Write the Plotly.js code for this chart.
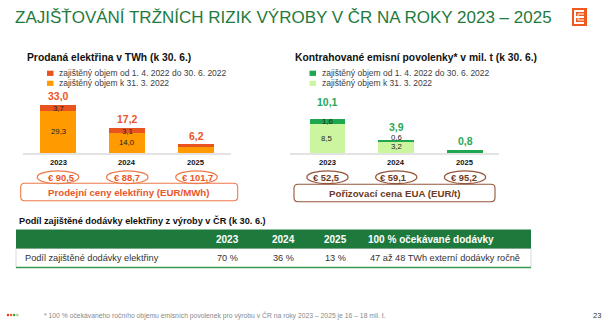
<!DOCTYPE html>
<html>
<head>
<meta charset="utf-8">
<script src="https://cdn.plot.ly/plotly-3.0.1.min.js"></script>
<style>
  html, body { margin: 0; padding: 0; background: #ffffff; }
  #chart { width: 605px; height: 325px; }
</style>
</head>
<body>
<div id="chart"></div>
<script>
// ---------------- DATA ----------------
const years = ['2023', '2024', '2025'];

// Prodaná elektřina v TWh
const elecBase = [29.3, 14.0, 3.9];     // zajištěný objem k 31. 3. 2022
const elecAdded = [3.7, 3.1, 2.3];      // zajištěný objem od 1. 4. 2022 do 30. 6. 2022
const elecTotal = [33.0, 17.2, 6.2];
const elecPrices = ['€ 90,5', '€ 88,7', '€ 101,7'];

// Kontrahované emisní povolenky v mil. t
const euaBase = [8.5, 3.2, 0.0];
const euaAdded = [1.6, 0.6, 0.8];
const euaTotal = [10.1, 3.9, 0.8];
const euaPrices = ['€ 52,5', '€ 59,1', '€ 95,2'];

const segmentLabelYears = ['2023', '2024'];

const legendLabels = ['zajištěný objem od 1. 4. 2022 do 30. 6. 2022', 'zajištěný objem k 31. 3. 2022'];

const tableHeader = ['', '2023', '2024', '2025', '100 % očekávané dodávky'];
const tableRow = ['Podíl zajištěné dodávky elektřiny', '70 %', '36 %', '13 %', '47 až 48 TWh externí dodávky ročně'];

const texts = {
  title: 'ZAJIŠŤOVÁNÍ TRŽNÍCH RIZIK VÝROBY V ČR NA ROKY 2023 – 2025',
  leftTitle: 'Prodaná elektřina v TWh (k 30. 6.)',
  rightTitle: 'Kontrahované emisní povolenky* v mil. t (k 30. 6.)',
  leftBox: 'Prodejní ceny elektřiny (EUR/MWh)',
  rightBox: 'Pořizovací cena EUA (EUR/t)',
  tableTitle: 'Podíl zajištěné dodávky elektřiny z výroby v ČR (k 30. 6.)',
  footnote: '* 100 % očekávaného ročního objemu emisních povolenek pro výrobu v ČR na roky 2023 – 2025 je 16 – 18 mil. t.',
  page: '23'
};

// ---------------- STYLE ----------------
const W = 605, H = 325;
const FONT = 'Liberation Sans, Arial, Helvetica, sans-serif';
const C = {
  green: '#1f7a3d',
  orangeLight: '#ff9a00',
  orangeDark: '#e9531d',
  orangeText: '#e9562a',
  orangeLine: '#ee7a48',
  greenLight: '#ccf5a0',
  greenDark: '#1fa64f',
  greenText: '#2aa85a',
  brownLine: '#94553a',
  brownText: '#6e3a22',
  tableGreen: '#1e7a3c',
  axis: '#e3e3e3'
};
const px = x => x / W;
const py = y => 1 - y / H;
const fmt = v => v.toFixed(1).replace('.', ',');

function roundRect(x0, y0, x1, y1, r) {
  const P = (x, y) => px(x).toFixed(5) + ',' + py(y).toFixed(5);
  return 'M' + P(x0 + r, y0) + ' L' + P(x1 - r, y0) + ' Q' + P(x1, y0) + ' ' + P(x1, y0 + r) +
    ' L' + P(x1, y1 - r) + ' Q' + P(x1, y1) + ' ' + P(x1 - r, y1) +
    ' L' + P(x0 + r, y1) + ' Q' + P(x0, y1) + ' ' + P(x0, y1 - r) +
    ' L' + P(x0, y0 + r) + ' Q' + P(x0, y0) + ' ' + P(x0 + r, y0) + ' Z';
}

const BAR_W = 0.52;
const idx = years.map((_, i) => i);

const traces = [
  { type: 'bar', x: idx, y: elecBase, xaxis: 'x', yaxis: 'y', width: BAR_W,
    marker: { color: C.orangeLight }, name: legendLabels[1], hoverinfo: 'skip' },
  { type: 'bar', x: idx, y: elecAdded, xaxis: 'x', yaxis: 'y', width: BAR_W,
    marker: { color: C.orangeDark }, name: legendLabels[0], hoverinfo: 'skip' },
  { type: 'bar', x: idx, y: euaBase, xaxis: 'x2', yaxis: 'y2', width: BAR_W,
    marker: { color: C.greenLight }, name: legendLabels[1], hoverinfo: 'skip' },
  { type: 'bar', x: idx, y: euaAdded, xaxis: 'x2', yaxis: 'y2', width: BAR_W,
    marker: { color: C.greenDark }, name: legendLabels[0], hoverinfo: 'skip' }
];

const annotations = [];
const shapes = [];
const ann = (o) => annotations.push(Object.assign({ showarrow: false, xref: 'paper', yref: 'paper',
  xanchor: 'center', yanchor: 'middle', font: { family: FONT, size: 9, color: '#333' } }, o));

// main title
ann({ x: px(13), y: py(17.5), xanchor: 'left', text: texts.title,
  font: { family: FONT, size: 17, color: C.green } });

// logo
shapes.push({ type: 'rect', xref: 'paper', yref: 'paper', x0: px(572), x1: px(587), y0: py(8), y1: py(26),
  fillcolor: '#f25a1d', line: { width: 0 } });
shapes.push({ type: 'path', xref: 'paper', yref: 'paper',
  path: 'M' + px(584) + ',' + py(11) + ' L' + px(575) + ',' + py(11) + ' L' + px(575) + ',' + py(23) +
        ' L' + px(584) + ',' + py(23) + ' M' + px(575) + ',' + py(17) + ' L' + px(584) + ',' + py(17),
  line: { color: '#ffffff', width: 2 } });
shapes.push({ type: 'path', xref: 'paper', yref: 'paper',
  path: 'M' + px(584) + ',' + py(14) + ' L' + px(578) + ',' + py(14) + ' L' + px(578) + ',' + py(20) +
        ' L' + px(584) + ',' + py(20),
  line: { color: '#ffffff', width: 1 } });

// panels
const panels = [
  { xa: 'x', ya: 'y', pxPerUnit: 1.44, title: texts.leftTitle, titleX: 25, legX: 47, base: elecBase, added: elecAdded, total: elecTotal,
    dark: C.orangeDark, light: C.orangeLight, totalColor: C.orangeText, totalShift: [2.5, 2.5, 1],
    prices: elecPrices, ellLine: C.orangeLine, ellText: C.orangeText, priceShift: [2.5, 0, 1.5],
    box: [20.7, 183.3, 237.7, 200.7], boxLine: C.orangeLine, boxText: texts.leftBox, boxColor: C.orangeText, yearY: 163 },
  { xa: 'x2', ya: 'y2', pxPerUnit: 3.4, title: texts.rightTitle, titleX: 293, legX: 309.5, base: euaBase, added: euaAdded, total: euaTotal,
    dark: C.greenDark, light: C.greenLight, totalColor: C.greenText, totalShift: [10, 6, 2],
    prices: euaPrices, ellLine: C.brownLine, ellText: C.brownText, priceShift: [-1.5, -3, -1],
    box: [294, 184.3, 495, 201.7], boxLine: C.brownLine, boxText: texts.rightBox, boxColor: C.brownText, yearY: 162 }
];

panels.forEach(p => {
  ann({ x: px(p.titleX), y: py(57.5), xanchor: 'left', text: '<b>' + p.title + '</b>',
    font: { family: FONT, size: 10.3, color: '#111' } });
  // legend
  [[p.dark, 73.3], [p.light, 83.3]].forEach((it, k) => {
    shapes.push({ type: 'rect', xref: 'paper', yref: 'paper', x0: px(p.legX), x1: px(p.legX + 6.5),
      y0: py(it[1] - 2.6), y1: py(it[1] + 2.6), fillcolor: it[0], line: { width: 0 } });
    ann({ x: px(p.legX + 10), y: py(it[1]), xanchor: 'left', text: legendLabels[k],
      font: { family: FONT, size: 8.5, color: '#404040' } });
  });
  years.forEach((yr, i) => {
    // totals
    ann({ xref: p.xa, yref: p.ya, x: i, y: p.total[i], yanchor: 'bottom', yshift: p.totalShift[i], borderpad: 0,
      text: '<b>' + fmt(p.total[i]) + '</b>', font: { family: FONT, size: 10.5, color: p.totalColor } });
    // segment labels
    if (segmentLabelYears.includes(yr)) {
      const thin = p.added[i] * p.pxPerUnit < 3.5;
      ann({ xref: p.xa, yref: p.ya, x: i, y: p.base[i] / 2, yshift: thin ? 1 : 0, borderpad: 0, text: fmt(p.base[i]),
        font: { family: FONT, size: 7.8, color: '#222' } });
      ann({ xref: p.xa, yref: p.ya, x: i, y: p.base[i] + p.added[i] / 2, yshift: thin ? 3.5 : -0.5, borderpad: 0,
        text: fmt(p.added[i]), font: { family: FONT, size: 7.8, color: '#222' } });
    }
    // year labels
    ann({ xref: p.xa, x: i, y: py(p.yearY), text: '<b>' + yr + '</b>',
      font: { family: FONT, size: 7.6, color: '#111' } });
    // price ellipses
    shapes.push({ type: 'circle', xref: p.xa, yref: 'paper', x0: i - 0.3, x1: i + 0.3,
      xshift: p.priceShift[i], y0: py(170.8), y1: py(183.6), line: { color: p.ellLine, width: 1.2 }, fillcolor: 'rgba(0,0,0,0)' });
    ann({ xref: p.xa, x: i, xshift: p.priceShift[i], y: py(177.4), text: '<b>' + p.prices[i] + '</b>',
      font: { family: FONT, size: 9.4, color: p.ellText } });
  });
  const b = p.box;
  shapes.push({ type: 'path', xref: 'paper', yref: 'paper', path: roundRect(b[0], b[1], b[2], b[3], 4),
    line: { color: p.boxLine, width: 1.1 }, fillcolor: 'rgba(0,0,0,0)' });
  ann({ x: px((b[0] + b[2]) / 2), y: py((b[1] + b[3]) / 2 + 0.3), text: '<b>' + p.boxText + '</b>',
    font: { family: FONT, size: 9.7, color: p.boxColor } });
});

// table
ann({ x: px(17), y: py(220), xanchor: 'left', text: '<b>' + texts.tableTitle + '</b>',
  font: { family: FONT, size: 9.2, color: '#111' } });
shapes.push({ type: 'rect', xref: 'paper', yref: 'paper', x0: px(16), x1: px(531), y0: py(248.5), y1: py(267.5),
  fillcolor: '#ffffff', line: { color: '#d9d9d9', width: 1 } });
shapes.push({ type: 'rect', xref: 'paper', yref: 'paper', x0: px(16), x1: px(531), y0: py(229.5), y1: py(248.5),
  fillcolor: C.tableGreen, line: { width: 0 } });
shapes.push({ type: 'line', xref: 'paper', yref: 'paper', x0: px(16), x1: px(531), y0: py(267.5), y1: py(267.5),
  line: { color: '#3a9a55', width: 1.5 } });
const colX = [23, 227.5, 283.5, 335, 366];
const colAnchor = ['left', 'center', 'center', 'center', 'left'];
tableHeader.forEach((t, i) => {
  if (!t) return;
  ann({ x: px(colX[i]), y: py(239.3), xanchor: colAnchor[i], text: '<b>' + t + '</b>',
    font: { family: FONT, size: 10, color: '#ffffff' } });
});
tableRow.forEach((t, i) => {
  ann({ x: px(i === 4 ? colX[i] + 2 : colX[i]), y: py(258.3), xanchor: colAnchor[i], text: t,
    font: { family: FONT, size: 9.2, color: '#333' } });
});

// footer
['#e63312', '#ee5a1a', '#2f9e44', '#9ccf7a'].forEach((c, i) => {
  const cx = 8 + i * 3.1;
  shapes.push({ type: 'circle', xref: 'paper', yref: 'paper', x0: px(cx - 1.2), x1: px(cx + 1.2),
    y0: py(315 - 1.2), y1: py(315 + 1.2), fillcolor: c, line: { width: 0 } });
});
ann({ x: px(41.5), y: py(315), xanchor: 'left', text: texts.footnote,
  font: { family: FONT, size: 6.8, color: '#8a8a8a' } });
ann({ x: px(597), y: py(315), text: texts.page,
  font: { family: FONT, size: 7.5, color: '#333' } });

const xCommon = { range: [-0.5, 2.5], showgrid: false, zeroline: false, showticklabels: false, ticks: '',
  showline: true, linecolor: C.axis, linewidth: 2, fixedrange: true };
const yCommon = { showgrid: false, zeroline: false, showticklabels: false, ticks: '', showline: false, fixedrange: true };

const layout = {
  width: W, height: H,
  margin: { l: 0, r: 0, t: 0, b: 0, pad: 0 },
  paper_bgcolor: '#ffffff', plot_bgcolor: 'rgba(0,0,0,0)',
  barmode: 'stack',
  showlegend: false,
  xaxis: Object.assign({}, xCommon, { domain: [px(23.4), px(231.1)], anchor: 'y' }),
  yaxis: Object.assign({}, yCommon, { domain: [py(153), py(153 - 40 * 1.44)], range: [0, 40], anchor: 'x' }),
  xaxis2: Object.assign({}, xCommon, { domain: [px(290), px(499.4)], range: [-0.5 - (293.1 - 290) / 68.75, 2.5], anchor: 'y2' }),
  yaxis2: Object.assign({}, yCommon, { domain: [py(153), py(153 - 12 * 3.4)], range: [0, 12], anchor: 'x2' }),
  annotations: annotations,
  shapes: shapes,
  font: { family: FONT }
};

Plotly.newPlot('chart', traces, layout, { staticPlot: true, displayModeBar: false });
</script>
</body>
</html>
